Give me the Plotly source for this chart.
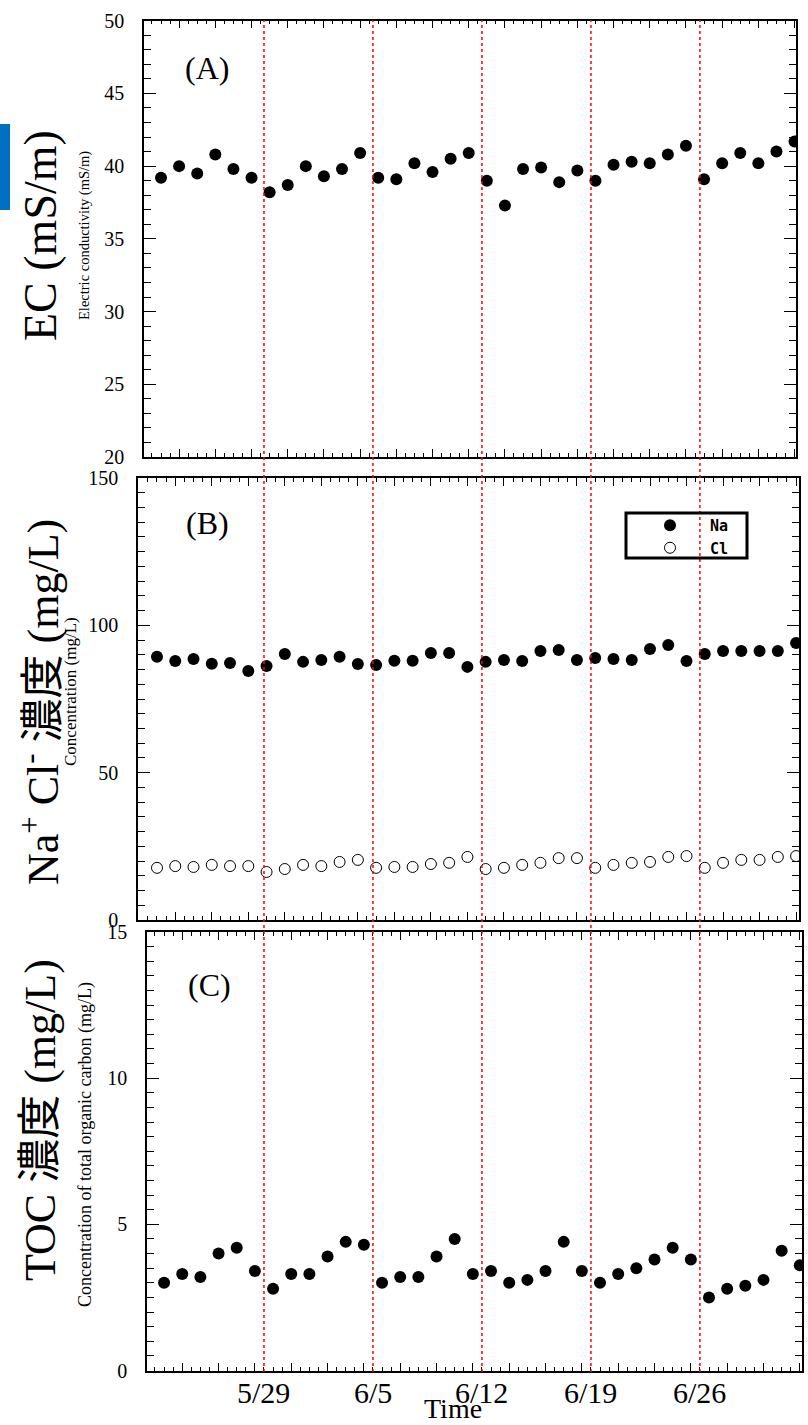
import plotly.graph_objects as go

W, H = 808, 1425

# sample number (six samples per week)
sample = list(range(36))

# (A) electric conductivity, mS/m
ec = [39.2, 40.0, 39.5, 40.8, 39.8, 39.2, 38.2, 38.7, 40.0, 39.3, 39.8, 40.9,
      39.2, 39.1, 40.2, 39.6, 40.5, 40.9, 39.0, 37.3, 39.8, 39.9, 38.9, 39.7,
      39.0, 40.1, 40.3, 40.2, 40.8, 41.4, 39.1, 40.2, 40.9, 40.2, 41.0, 41.7]

# (B) Na+ and Cl- concentration, mg/L
na = [89.3, 87.9, 88.6, 87.0, 87.2, 84.5, 86.2, 90.3, 87.6, 88.2, 89.3, 86.9,
      86.5, 88.0, 88.0, 90.6, 90.6, 85.9, 87.6, 88.2, 87.9, 91.3, 91.6, 88.2,
      88.9, 88.6, 88.2, 92.0, 93.3, 87.9, 90.3, 91.3, 91.3, 91.3, 91.3, 94.0]
cl = [17.7, 18.3, 18.0, 18.7, 18.3, 18.3, 16.3, 17.3, 18.7, 18.3, 19.7, 20.4,
      17.7, 18.0, 18.0, 19.0, 19.4, 21.4, 17.3, 17.7, 18.7, 19.4, 21.0, 21.0,
      17.7, 18.7, 19.4, 19.7, 21.4, 21.7, 17.7, 19.4, 20.4, 20.4, 21.4, 21.7]

# (C) total organic carbon, mg/L
toc = [3.0, 3.3, 3.2, 4.0, 4.2, 3.4, 2.8, 3.3, 3.3, 3.9, 4.4, 4.3,
       3.0, 3.2, 3.2, 3.9, 4.5, 3.3, 3.4, 3.0, 3.1, 3.4, 4.4, 3.4,
       3.0, 3.3, 3.5, 3.8, 4.2, 3.8, 2.5, 2.8, 2.9, 3.1, 4.1, 3.6]

week_labels = ["5/29", "6/5", "6/12", "6/19", "6/26"]
samples_per_week = 6


def fx(p):
    return p / W


def fy(p):
    return 1 - p / H


SERIF = "Liberation Serif"
CJK = "Liberation Serif, Noto Sans CJK JP"

fig = go.Figure()

dot = dict(color="black", size=12, line=dict(color="black", width=0))
fig.add_trace(go.Scatter(x=sample, y=ec, mode="markers", marker=dot,
                         xaxis="x", yaxis="y", showlegend=False))
fig.add_trace(go.Scatter(x=sample, y=na, mode="markers", name="Na", marker=dot,
                         xaxis="x2", yaxis="y2"))
fig.add_trace(go.Scatter(x=sample, y=cl, mode="markers", name="Cl",
                         marker=dict(color="white", size=11,
                                     line=dict(color="black", width=1)),
                         xaxis="x2", yaxis="y2"))
fig.add_trace(go.Scatter(x=sample, y=toc, mode="markers", marker=dot,
                         xaxis="x3", yaxis="y3", showlegend=False))


def xaxis(left, right, lo, hi, anchor):
    return dict(domain=[fx(left), fx(right)], range=[lo, hi], anchor=anchor,
                showline=True, linecolor="black", linewidth=1.5, mirror="ticks",
                ticks="inside", tick0=1, dtick=2, ticklen=8, tickwidth=1.2,
                tickcolor="black", showticklabels=False, showgrid=False,
                zeroline=False, automargin=False,
                minor=dict(ticks="inside", tick0=0, dtick=0.5, ticklen=4,
                           tickwidth=1, tickcolor="black", showgrid=False))


def yaxis(top, bottom, lo, hi, major, minor, anchor):
    return dict(domain=[fy(bottom), fy(top)], range=[lo, hi], anchor=anchor,
                showline=True, linecolor="black", linewidth=1.5, mirror="ticks",
                ticks="inside", dtick=major, tick0=0, ticklen=12, tickwidth=1.2,
                tickcolor="black", showgrid=False, zeroline=False,
                automargin=False,
                tickfont=dict(family=SERIF, size=20, color="black"),
                ticklabelstandoff=14,
                minor=dict(ticks="inside", tick0=0, dtick=minor, ticklen=7,
                           tickwidth=1, tickcolor="black", showgrid=False))


fig.update_layout(
    xaxis=xaxis(144, 796, -0.94, 35.08, "y"),
    yaxis=yaxis(20.7, 457, 20, 50, 5, 1, "x"),
    xaxis2=xaxis(138, 799, -1.04, 35.16, "y2"),
    yaxis2=yaxis(478, 920, 0, 150, 50, 5, "x2"),
    xaxis3=xaxis(147, 802, -0.94, 35.12, "y3"),
    yaxis3=yaxis(932, 1370.5, 0, 15, 5, 0.5, "x3"),
)

shapes = []
annotations = []

# week boundaries: red dotted lines through all three panels
for k, lab in enumerate(week_labels):
    b = samples_per_week * (k + 1) - 0.5
    shapes.append(dict(type="line", xref="x3", yref="paper", x0=b, x1=b,
                       y0=fy(1372), y1=fy(20), layer="above",
                       line=dict(color="red", width=1.5, dash="dot")))
    annotations.append(dict(x=b, xref="x3", y=fy(1392), yref="paper",
                            text=lab, showarrow=False, yanchor="middle",
                            font=dict(family=SERIF, size=30, color="black")))

annotations.append(dict(x=fx(453), xref="paper", y=0, yref="paper",
                        text="Time", showarrow=False, yanchor="bottom",
                        borderpad=0,
                        font=dict(family=SERIF, size=28, color="black")))

# panel letters
for txt, px, py in [("(A)", 207, 68), ("(B)", 207, 523), ("(C)", 209, 985)]:
    annotations.append(dict(x=fx(px), y=fy(py), xref="paper", yref="paper",
                            text=txt, showarrow=False, xanchor="center",
                            yanchor="middle",
                            font=dict(family=SERIF, size=32, color="black")))

# axis titles (large Japanese/English and small English)
titles = [
    ("EC (mS/m)", 40, 236, 46),
    ("Electric conductivity (mS/m)", 84, 236, 14.5),
    ("Na<sup>+</sup> Cl<sup>-</sup> 濃度 (mg/L)", 40, 702, 44),
    ("Concentration (mg/L)", 70, 692, 17),
    ("TOC 濃度 (mg/L)", 40, 1120, 44),
    ("Concentration of total organic carbon (mg/L)", 85, 1145, 18),
]
for txt, px, py, size in titles:
    annotations.append(dict(x=fx(px), y=fy(py), xref="paper", yref="paper",
                            text=txt, showarrow=False, textangle=-90,
                            xanchor="center", yanchor="middle",
                            font=dict(family=CJK, size=size, color="black")))

# legend frame
shapes.append(dict(type="rect", xref="paper", yref="paper",
                   x0=fx(626), x1=fx(747), y0=fy(558), y1=fy(513),
                   line=dict(color="black", width=3), fillcolor="rgba(0,0,0,0)"))

# blue tab at the left edge
shapes.append(dict(type="rect", xref="paper", yref="paper",
                   x0=0, x1=fx(10), y0=fy(210), y1=fy(124),
                   line=dict(width=0), fillcolor="#0070C0"))

fig.update_layout(
    width=W, height=H,
    margin=dict(l=0, r=0, t=0, b=0, autoexpand=False),
    paper_bgcolor="white", plot_bgcolor="white",
    shapes=shapes, annotations=annotations,
    legend=dict(x=fx(630), y=fy(509), xanchor="left", yanchor="top",
                bgcolor="rgba(0,0,0,0)", borderwidth=0, itemwidth=70,
                font=dict(family="DejaVu Sans Mono", size=15, color="black",
                          weight="bold"),
                tracegroupgap=0),
)

fig.write_html(
    "out.html",
    post_script="document.body.style.margin='0';"
                "document.body.style.overflow='hidden';",
)
